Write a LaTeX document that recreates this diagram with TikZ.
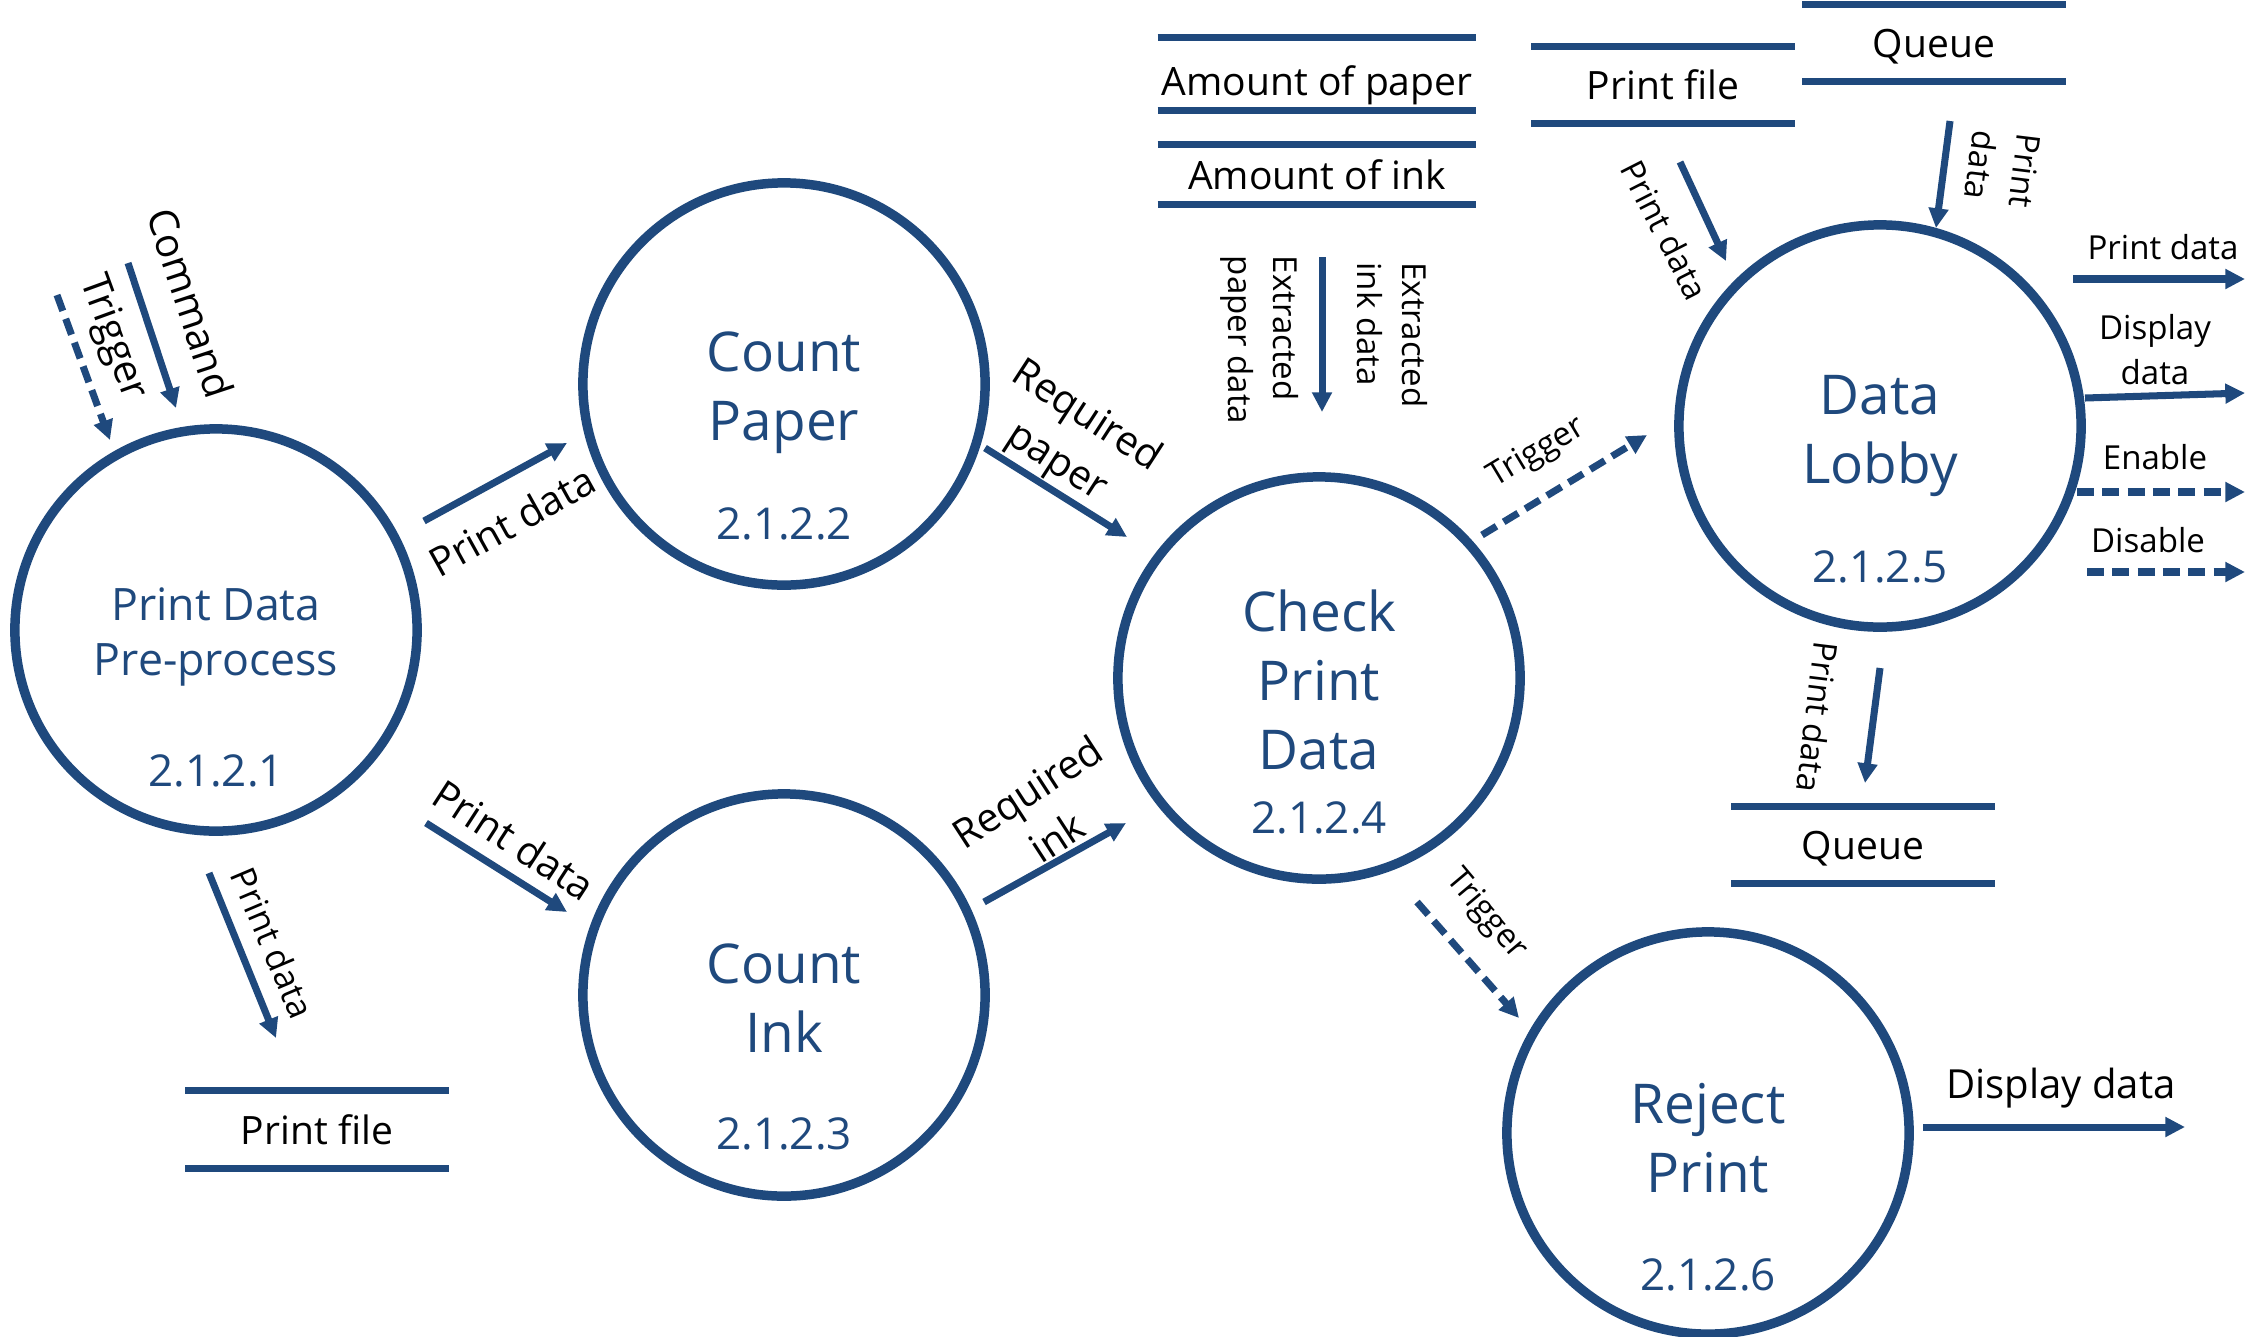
\documentclass[tikz,border=0pt]{standalone}
\usepackage{fontspec}
\setmainfont{Open Sans}
\usetikzlibrary{arrows.meta}
\definecolor{dfdblue}{RGB}{31,73,125}

\begin{document}
\begin{tikzpicture}[x = 0.01cm, y = -0.01cm]
\tikzstyle{ProcessStyle}=[shape = circle,
                         draw = dfdblue,
                         line width = 2.7pt,
                         minimum size = 4.02cm,
                         inner sep = 0pt]
\tikzstyle{NameStyle}=[text = dfdblue, align = center, inner sep = 0pt,
                       font = \fontsize{15.6}{19.6}\selectfont]
\tikzstyle{SmallNameStyle}=[NameStyle, font = \fontsize{12.7}{15.9}\selectfont]
\tikzstyle{NumberStyle}=[text = dfdblue, inner sep = 0pt,
                         font = \fontsize{12.5}{15}\selectfont]
\tikzstyle{StoreStyle}=[inner sep = 0pt, text depth = 0pt,
                        minimum width = 2.62cm, minimum height = 0.76cm,
                        font = \fontsize{11.1}{14}\selectfont]
\tikzstyle{StoreLine}=[draw = dfdblue, line width = 1.95pt]
\tikzstyle{Flow}=[draw = dfdblue, line width = 2pt,
                  -{Triangle[length = 5.6pt, width = 5.4pt]}]
\tikzstyle{Control}=[Flow, dash pattern = on 4.8pt off 2.4pt]
\tikzstyle{FlowLabel}=[inner sep = 0pt, align = center,
                       font = \fontsize{11.4}{15.5}\selectfont]
\tikzstyle{SmallLabel}=[inner sep = 0pt, align = center,
                        font = \fontsize{9.4}{12.8}\selectfont]

\useasboundingbox (0,0) rectangle (2246,1336);

% processes
\node[ProcessStyle] (pre) at (216,630) {};
\node[ProcessStyle] (paper) at (784,384) {};
\node[ProcessStyle] (ink) at (784,995) {};
\node[ProcessStyle] (check) at (1319,678) {};
\node[ProcessStyle] (lobby) at (1880,426) {};
\node[ProcessStyle] (reject) at (1708,1133) {};

\node[SmallNameStyle] (pre-name) at (216,637) {Print Data\\Pre-process};
\node[NameStyle] (paper-name) at (784,393) {Count\\Paper};
\node[NameStyle] (ink-name) at (784,998) {Count\\Ink};
\node[NameStyle] (check-name) at (1319,680) {Check\\Print\\Data};
\node[NameStyle] (lobby-name) at (1880,436) {Data\\Lobby};
\node[NameStyle] (reject-name) at (1708,1138) {Reject\\Print};

\node[NumberStyle] (pre-num) at (216,771) {2.1.2.1};
\node[NumberStyle] (paper-num) at (784,524) {2.1.2.2};
\node[NumberStyle] (ink-num) at (784,1134) {2.1.2.3};
\node[NumberStyle] (check-num) at (1319,818) {2.1.2.4};
\node[NumberStyle] (lobby-num) at (1880,567) {2.1.2.5};
\node[NumberStyle] (reject-num) at (1708,1275) {2.1.2.6};

% data stores
\node[StoreStyle, minimum width = 3.17cm, minimum height = 0.72cm, text height = 0.42cm] (amtpaper) at (1317,74) {Amount of paper};
\node[StoreStyle, minimum width = 3.17cm, minimum height = 0.59cm] (amtink) at (1317,174.5) {Amount of ink};
\node[StoreStyle] (file-top) at (1663,85) {Print file};
\node[StoreStyle] (queue-top) at (1934,43) {Queue};
\node[StoreStyle] (queue-low) at (1863,845) {Queue};
\node[StoreStyle, minimum height = 0.77cm] (file-low) at (317,1129.5) {Print file};
\draw[StoreLine] (amtpaper.north west) -- (amtpaper.north east) (amtpaper.south west) -- (amtpaper.south east);
\draw[StoreLine] (amtink.north west) -- (amtink.north east) (amtink.south west) -- (amtink.south east);
\draw[StoreLine] (file-top.north west) -- (file-top.north east) (file-top.south west) -- (file-top.south east);
\draw[StoreLine] (queue-top.north west) -- (queue-top.north east) (queue-top.south west) -- (queue-top.south east);
\draw[StoreLine] (queue-low.north west) -- (queue-low.north east) (queue-low.south west) -- (queue-low.south east);
\draw[StoreLine] (file-low.north west) -- (file-low.north east) (file-low.south west) -- (file-low.south east);

% flow ends
\coordinate (cmd-s) at (128,263);     \coordinate (cmd-e) at (176,408);
\coordinate (trg-s) at (57,295);      \coordinate (trg-e) at (110,440);
\coordinate (pp-s) at (424,521);      \coordinate (pp-e) at (567,443);
\coordinate (pi-s) at (426,823);      \coordinate (pi-e) at (567,912);
\coordinate (pf-s) at (209,873);      \coordinate (pf-e) at (276,1038);
\coordinate (rp-s) at (985,448);      \coordinate (rp-e) at (1127,537);
\coordinate (ri-s) at (984,902);      \coordinate (ri-e) at (1126,823);
\coordinate (ex-s) at (1322,257);     \coordinate (ex-e) at (1322,412);
\coordinate (tl-s) at (1482,535);     \coordinate (tl-e) at (1647,435);
\coordinate (tr-s) at (1417,902);     \coordinate (tr-e) at (1519,1018);
\coordinate (fl-s) at (1680,162);     \coordinate (fl-e) at (1726,261);
\coordinate (ql-s) at (1950,121);     \coordinate (ql-e) at (1936,228);
\coordinate (lq-s) at (1880,668);     \coordinate (lq-e) at (1865,783);
\coordinate (op-s) at (2073,279);     \coordinate (op-e) at (2245,279);
\coordinate (od-s) at (2085,398);     \coordinate (od-e) at (2245,393);
\coordinate (oe-s) at (2077,492);     \coordinate (oe-e) at (2245,492);
\coordinate (ox-s) at (2087,572);     \coordinate (ox-e) at (2245,572);
\coordinate (rd-s) at (1923,1127);    \coordinate (rd-e) at (2185,1127);

% flows
\draw[Flow] (cmd-s) -- (cmd-e);
\draw[Control] (trg-s) -- (trg-e);
\draw[Flow] (pp-s) -- (pp-e);
\draw[Flow] (pi-s) -- (pi-e);
\draw[Flow] (pf-s) -- (pf-e);
\draw[Flow] (rp-s) -- (rp-e);
\draw[Flow] (ri-s) -- (ri-e);
\draw[Flow] (ex-s) -- (ex-e);
\draw[Control] (tl-s) -- (tl-e);
\draw[Control] (tr-s) -- (tr-e);
\draw[Flow] (fl-s) -- (fl-e);
\draw[Flow] (ql-s) -- (ql-e);
\draw[Flow] (lq-s) -- (lq-e);
\draw[Flow] (op-s) -- (op-e);
\draw[Flow] (od-s) -- (od-e);
\draw[Control] (oe-s) -- (oe-e);
\draw[Control] (ox-s) -- (ox-e);
\draw[Flow] (rd-s) -- (rd-e);

% flow labels
\node[FlowLabel, rotate = -71.7] (cmd-l) at (191,303) {Command};
\node[FlowLabel, rotate = -70] (trg-l) at (112,338) {Trigger};
\node[FlowLabel, rotate = 29] (pp-l) at (512,521) {Print data};
\node[FlowLabel, rotate = -33] (pi-l) at (514,840) {Print data};
\node[SmallLabel, rotate = -67, font = \fontsize{9.9}{12.8}\selectfont] (pf-l) at (273,943) {Print data};
\node[FlowLabel, rotate = -33] (rp-l) at (1071,440) {Required\\paper};
\node[FlowLabel, rotate = 33] (ri-l) at (1042,814) {Required\\ink};
\node[SmallLabel, rotate = -90, align = left] (exp-l) at (1260,340) {Extracted\\paper data};
\node[SmallLabel, rotate = -90, align = left] (exi-l) at (1392,335) {Extracted\\ink data};
\node[SmallLabel, rotate = 31] (tl-l) at (1537,453) {Trigger};
\node[SmallLabel, rotate = -50] (tr-l) at (1486,915) {Trigger};
\node[SmallLabel, rotate = -63] (fl-l) at (1665,230) {Print data};
\node[SmallLabel, rotate = -97] (ql-l) at (2003,168) {Print\\data};
\node[SmallLabel, rotate = -97] (lq-l) at (1818,717) {Print data};
\node[SmallLabel] (op-l) at (2163,247) {Print data};
\node[SmallLabel] (od-l) at (2155,350) {Display\\data};
\node[SmallLabel] (oe-l) at (2155,457) {Enable};
\node[SmallLabel] (ox-l) at (2148,540) {Disable};
\node[FlowLabel] (rd-l) at (2061,1088) {Display data};
\end{tikzpicture}
\end{document}
